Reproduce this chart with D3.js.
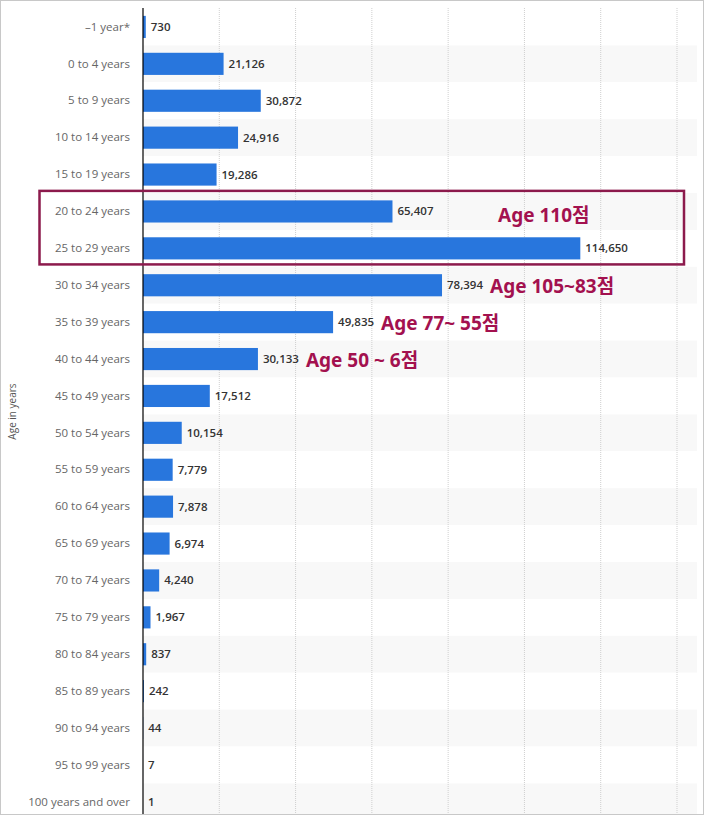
<!DOCTYPE html>
<html>
<head>
<meta charset="utf-8">
<script src="https://cdn.jsdelivr.net/npm/d3@7"></script>
<style>
  body { margin: 0; background: #fff; }
  svg { display: block; font-family: "Open Sans", "Noto Sans", sans-serif; }
</style>
</head>
<body>
<div id="chart"></div>
<script>
const ageGroups = [
    "–1 year*", "0 to 4 years", "5 to 9 years", "10 to 14 years", "15 to 19 years",
    "20 to 24 years", "25 to 29 years", "30 to 34 years", "35 to 39 years", "40 to 44 years",
    "45 to 49 years", "50 to 54 years", "55 to 59 years", "60 to 64 years", "65 to 69 years",
    "70 to 74 years", "75 to 79 years", "80 to 84 years", "85 to 89 years", "90 to 94 years",
    "95 to 99 years", "100 years and over"
];
const counts = [
    730, 21126, 30872, 24916, 19286,
    65407, 114650, 78394, 49835, 30133,
    17512, 10154, 7779, 7878, 6974,
    4240, 1967, 837, 242, 44,
    7, 1
];
const gridTicks = [20000, 40000, 60000, 80000, 100000, 120000, 140000];
// annotations attached to an age group
const notes = [
    { group: "30 to 34 years", text: "Age 105~83점" },
    { group: "35 to 39 years", text: "Age 77~ 55점" },
    { group: "40 to 44 years", text: "Age 50 ~ 6점" }
];
const boxNote = { groups: ["20 to 24 years", "25 to 29 years"], text: "Age 110점" };

const width = 704, height = 815;
const plotLeft = 143, plotRight = 697;

const svg = d3.select("#chart")
    .append("svg")
    .attr("width", width)
    .attr("height", height);

const x = d3.scaleLinear()
    .domain([0, 140000])
    .range([plotLeft, 677]);

const y = d3.scaleBand()
    .domain(ageGroups)
    .range([8.5, 8.5 + 36.9 * ageGroups.length])
    .paddingInner(0.4)
    .paddingOuter(0.2);

const rowStep = y.step();

// alternating row bands
svg.selectAll(".band")
    .data(ageGroups)
    .enter().append("rect")
    .attr("class", "band")
    .attr("x", plotLeft)
    .attr("y", d => y(d) - 0.2 * rowStep)
    .attr("width", plotRight - plotLeft)
    .attr("height", rowStep)
    .attr("fill", (d, i) => i % 2 ? "#f8f8f8" : "#ffffff");

// gridlines
svg.selectAll(".grid")
    .data(gridTicks)
    .enter().append("line")
    .attr("class", "grid")
    .attr("x1", d => x(d)).attr("x2", d => x(d))
    .attr("y1", 8).attr("y2", height)
    .attr("stroke", "#cfcfcf")
    .attr("stroke-width", 1)
    .attr("stroke-dasharray", "1,1");

// bars
svg.selectAll(".bar")
    .data(ageGroups)
    .enter().append("rect")
    .attr("class", "bar")
    .attr("x", x(0))
    .attr("y", d => y(d))
    .attr("width", (d, i) => x(counts[i]) - x(0))
    .attr("height", y.bandwidth())
    .attr("fill", "#2876dd");

// value labels
svg.selectAll(".value")
    .data(ageGroups)
    .enter().append("text")
    .attr("class", "value")
    .attr("x", (d, i) => x(counts[i]) + 5)
    .attr("y", d => y(d) + y.bandwidth() / 2)
    .attr("dy", "0.35em")
    .style("font-size", "11.5px")
    .style("font-weight", 600)
    .style("fill", "#333")
    .text((d, i) => d3.format(",")(counts[i]));

// y axis
const yAxis = d3.axisLeft(y).tickSize(0).tickPadding(13);
const yg = svg.append("g")
    .attr("transform", `translate(${plotLeft},0)`)
    .call(yAxis);
yg.select(".domain").remove();
yg.selectAll("text")
    .style("font-size", "11.5px")
    .style("fill", "#666")
    .style("font-family", "'Open Sans', 'Noto Sans', sans-serif");

svg.append("line")
    .attr("x1", plotLeft).attr("x2", plotLeft)
    .attr("y1", 8).attr("y2", height)
    .attr("stroke", "#000")
    .attr("stroke-width", 1.2);

svg.append("text")
    .attr("transform", `translate(16,${(8 + height) / 2}) rotate(-90)`)
    .attr("text-anchor", "middle")
    .style("font-size", "10px")
    .style("fill", "#555")
    .text("Age in years");

// highlighted box
const boxTop = y(boxNote.groups[0]) - 9.5;
const boxBottom = y(boxNote.groups[1]) + y.bandwidth() + 5;
svg.append("rect")
    .attr("x", 39.5)
    .attr("y", boxTop)
    .attr("width", 684 - 39.5)
    .attr("height", boxBottom - boxTop)
    .attr("fill", "none")
    .attr("stroke", "#8c1a4c")
    .attr("stroke-width", 2.5);

const noteColor = "#a3114f";
svg.append("text")
    .attr("x", 498)
    .attr("y", y(boxNote.groups[0]) + y.bandwidth() / 2 + 4)
    .attr("dy", "0.35em")
    .style("font-family", "'Noto Sans', 'Noto Sans CJK KR', sans-serif")
    .style("font-size", "19px")
    .style("font-weight", 700)
    .style("fill", noteColor)
    .text(boxNote.text);

svg.selectAll(".note")
    .data(notes)
    .enter().append("text")
    .attr("class", "note")
    .attr("x", d => x(counts[ageGroups.indexOf(d.group)]) + 48)
    .attr("y", d => y(d.group) + y.bandwidth() / 2 + 1)
    .attr("dy", "0.35em")
    .style("font-family", "'Noto Sans', 'Noto Sans CJK KR', sans-serif")
    .style("font-size", "19px")
    .style("font-weight", 700)
    .style("fill", noteColor)
    .text(d => d.text);

// outer frame
svg.append("rect")
    .attr("x", 0.5).attr("y", 0.5)
    .attr("width", width - 1).attr("height", height - 1)
    .attr("fill", "none")
    .attr("stroke", "#c8c8c8");
</script>
</body>
</html>
